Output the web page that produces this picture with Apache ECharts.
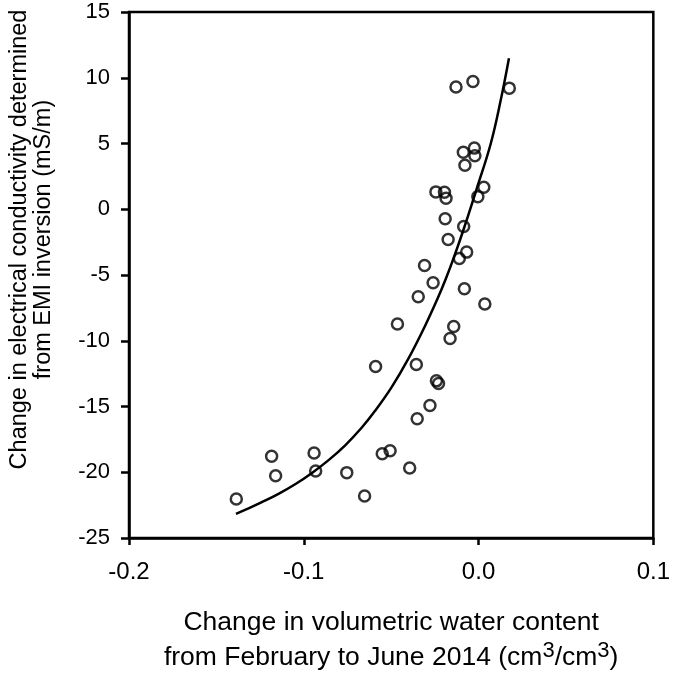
<!DOCTYPE html>
<html>
<head>
<meta charset="utf-8">
<script src="https://cdn.jsdelivr.net/npm/echarts@6/dist/echarts.min.js"></script>
<style>
html,body{margin:0;padding:0;background:#fff;}
#chart{width:673px;height:680px;}
</style>
</head>
<body>
<div id="chart"></div>
<script>
// Observed points: change in volumetric water content vs change in EC
const waterChange = [-0.0129, -0.0032, 0.0176, -0.0087, -0.0024, -0.0021, -0.0078, 0.0030, -0.0004, -0.0244,
  -0.0195, -0.0186, -0.0191, -0.0085, -0.0174, -0.0068, -0.0110, -0.0309, -0.0260, -0.0081,
  -0.0345, 0.0036, -0.0464, -0.0142, -0.0163, -0.0589, -0.0356, -0.0241, -0.0229, -0.0278,
  -0.0351, -0.1184, -0.0941, -0.1161, -0.0932, -0.0551, -0.0506, -0.0754, -0.0394, -0.0652,
  -0.1386];
const ecChange = [9.29, 9.71, 9.21, 4.33, 4.65, 4.07, 3.34, 1.67, 0.96, 1.32,
  1.29, 0.84, -0.73, -1.31, -2.30, -3.26, -3.74, -4.27, -5.59, -6.04,
  -6.65, -7.20, -8.72, -8.92, -9.83, -11.96, -11.81, -13.05, -13.25, -14.92,
  -15.93, -18.79, -18.54, -20.26, -19.90, -18.59, -18.36, -20.03, -19.67, -21.80,
  -22.03];
// Fitted curve, points
const curveX = [-0.1388, -0.1313, -0.1237, -0.1142, -0.1047, -0.0953, -0.0858, -0.0763, -0.0669, -0.0593,
  -0.0498, -0.0403, -0.0309, -0.0233, -0.0186, -0.0138, -0.0081, -0.0006, 0.0070, 0.0127, 0.0174];
const curveY = [-23.16, -22.73, -22.26, -21.62, -20.89, -20.05, -19.08, -17.95, -16.62, -15.35,
  -13.55, -11.40, -8.95, -6.75, -5.25, -3.55, -1.35, 1.75, 5.0, 8.3, 11.49];
// Axis ticks
const xTicks = [-0.2, -0.1, 0.0, 0.1];
const yTicks = [-25, -20, -15, -10, -5, 0, 5, 10, 15];

const scatterData = waterChange.map((x, i) => [x, ecChange[i]]);
const curveData = curveX.map((x, i) => [x, curveY[i]]);

const FONT = '"Liberation Sans", Arial, sans-serif';
const chart = echarts.init(document.getElementById('chart'), null, {renderer: 'canvas'});
chart.setOption({
  animation: false,
  backgroundColor: '#fff',
  grid: {left: 129, right: 16, top: 12, bottom: 141, show: true, borderColor: '#000', borderWidth: 2.5, containLabel: false},
  xAxis: {
    type: 'value',
    min: xTicks[0], max: xTicks[xTicks.length - 1], interval: 0.1,
    axisLine: {show: true, onZero: false, lineStyle: {color: '#000', width: 2.5}},
    axisTick: {show: true, inside: false, length: 7, lineStyle: {color: '#000', width: 2.5}},
    axisLabel: {fontFamily: FONT, fontSize: 24, color: '#000', margin: 22,
      formatter: v => (Math.abs(v) < 1e-9 ? 0 : v).toFixed(1)},
    splitLine: {show: false},
    name: 'Change in volumetric water content\nfrom February to June 2014 (cm{sup|3}/cm{sup|3})',
    nameLocation: 'middle',
    nameGap: 67,
    nameTextStyle: {fontFamily: FONT, fontSize: 26.5, color: '#000', lineHeight: 35,
      rich: {sup: {fontFamily: FONT, fontSize: 22, color: '#000', lineHeight: 10, verticalAlign: 'top'}}}
  },
  yAxis: {
    type: 'value',
    min: yTicks[0], max: yTicks[yTicks.length - 1], interval: 5,
    axisLine: {show: true, onZero: false, lineStyle: {color: '#000', width: 2.5}},
    axisTick: {show: true, inside: false, length: 8, lineStyle: {color: '#000', width: 2.5}},
    axisLabel: {fontFamily: FONT, fontSize: 22, color: '#000', margin: 19},
    splitLine: {show: false},
    name: 'Change in electrical conductivity determined\nfrom EMI inversion (mS/m)',
    nameLocation: 'middle',
    nameRotate: 90,
    nameGap: 73,
    nameTextStyle: {fontFamily: FONT, fontSize: 23.5, color: '#000', lineHeight: 24, padding: [0, 0, 0, 71]}
  },
  series: [
    {
      type: 'scatter',
      data: scatterData,
      symbol: 'circle',
      symbolSize: 11,
      itemStyle: {color: 'rgba(0,0,0,0)', borderColor: '#000', borderWidth: 2.5},
      z: 3
    },
    {
      type: 'line',
      data: curveData,
      smooth: 0.4,
      showSymbol: false,
      lineStyle: {color: '#000', width: 2.5},
      z: 2
    }
  ]
});
</script>
</body>
</html>
